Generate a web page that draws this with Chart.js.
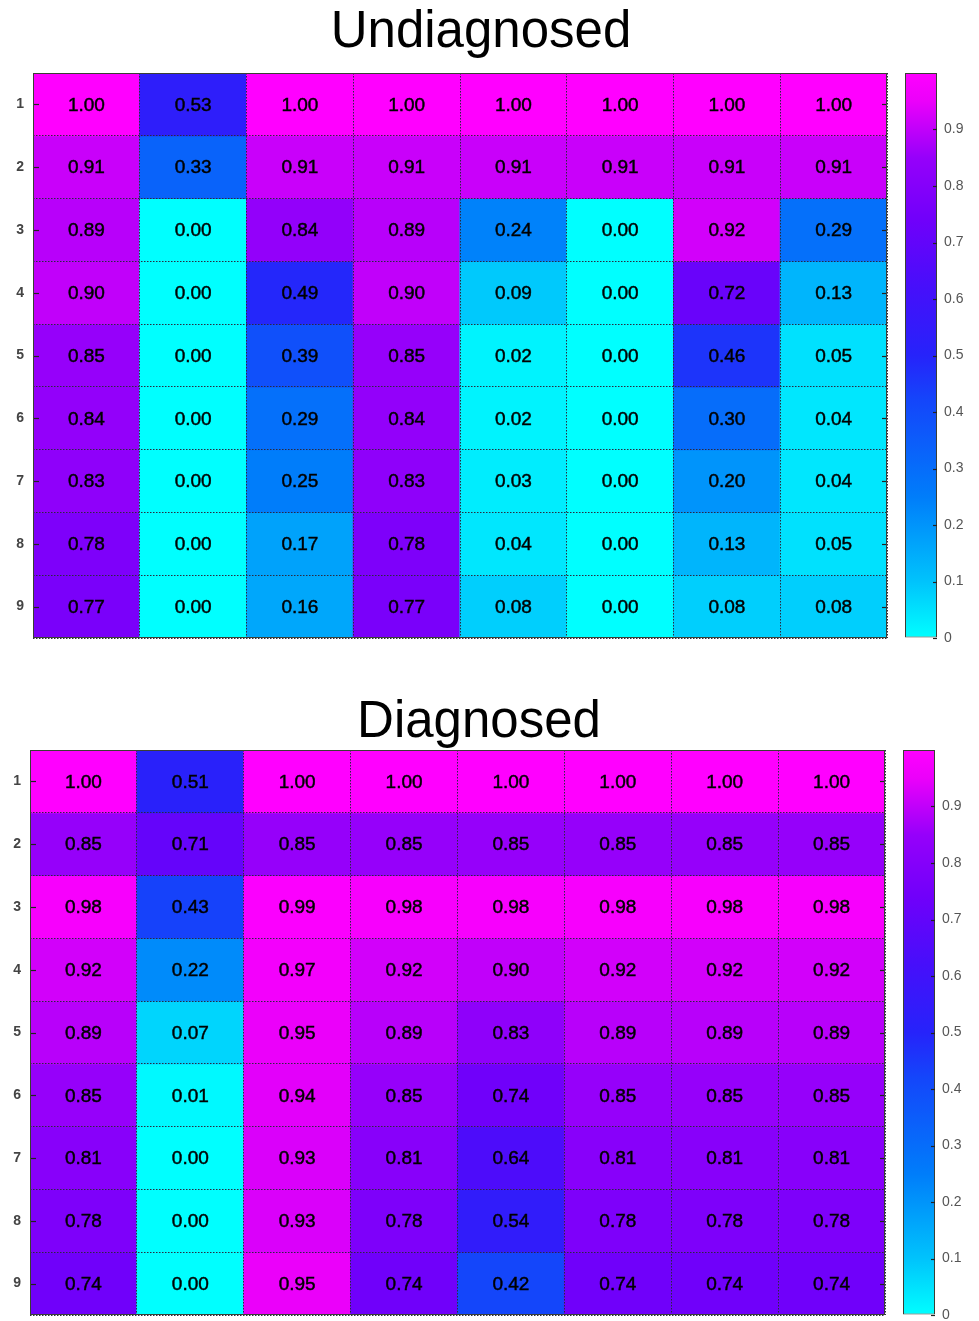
<!DOCTYPE html>
<html><head><meta charset="utf-8">
<script src="https://cdn.jsdelivr.net/npm/chart.js@4.4.1/dist/chart.umd.min.js"></script>
<style>
html,body{margin:0;padding:0;background:#fff;overflow:hidden;width:979px;height:1321px;position:relative;}
.title{position:absolute;left:0;text-align:center;font-family:"Liberation Sans",Arial,sans-serif;font-size:51px;line-height:51px;color:#000;}
canvas{position:absolute;}
</style></head><body>
<div class="title" style="top:4px;width:962px">Undiagnosed</div>
<div class="title" style="top:694px;width:958px">Diagnosed</div>
<canvas id="h1" width="895" height="585" style="left:0;top:63px;width:895px;height:585px"></canvas>
<canvas id="c1" width="84" height="585" style="left:895px;top:63px;width:84px;height:585px"></canvas>
<canvas id="h2" width="895" height="581" style="left:0;top:740px;width:895px;height:581px"></canvas>
<canvas id="c2" width="86" height="581" style="left:893px;top:740px;width:86px;height:581px"></canvas>
<script>
// ---- data ----
const columns = ['C1','C2','C3','C4','C5','C6','C7','C8'];
const rowLabels = ['1','2','3','4','5','6','7','8','9'];
const colorbarTicks = ['0','0.1','0.2','0.3','0.4','0.5','0.6','0.7','0.8','0.9'];

const undiagnosed = [
  [1.00,0.53,1.00,1.00,1.00,1.00,1.00,1.00],
  [0.91,0.33,0.91,0.91,0.91,0.91,0.91,0.91],
  [0.89,0.00,0.84,0.89,0.24,0.00,0.92,0.29],
  [0.90,0.00,0.49,0.90,0.09,0.00,0.72,0.13],
  [0.85,0.00,0.39,0.85,0.02,0.00,0.46,0.05],
  [0.84,0.00,0.29,0.84,0.02,0.00,0.30,0.04],
  [0.83,0.00,0.25,0.83,0.03,0.00,0.20,0.04],
  [0.78,0.00,0.17,0.78,0.04,0.00,0.13,0.05],
  [0.77,0.00,0.16,0.77,0.08,0.00,0.08,0.08]
];
const diagnosed = [
  [1.00,0.51,1.00,1.00,1.00,1.00,1.00,1.00],
  [0.85,0.71,0.85,0.85,0.85,0.85,0.85,0.85],
  [0.98,0.43,0.99,0.98,0.98,0.98,0.98,0.98],
  [0.92,0.22,0.97,0.92,0.90,0.92,0.92,0.92],
  [0.89,0.07,0.95,0.89,0.83,0.89,0.89,0.89],
  [0.85,0.01,0.94,0.85,0.74,0.85,0.85,0.85],
  [0.81,0.00,0.93,0.81,0.64,0.81,0.81,0.81],
  [0.78,0.00,0.93,0.78,0.54,0.78,0.78,0.78],
  [0.74,0.00,0.95,0.74,0.42,0.74,0.74,0.74]
];

// ---- colormap (style) ----
const cmapStops  = [0, 0.1, 0.25, 0.42, 0.5, 0.62, 0.74, 0.85, 0.95, 1];
const cmapColors = [[0,255,255],[0,195,252],[0,125,250],[20,70,250],[38,35,250],[70,15,250],[112,0,250],[150,0,250],[235,0,250],[255,0,255]];
function rgb(c){ return 'rgb('+c.map(Math.round).join(',')+')'; }
function cmap(v){
  for (let i=1;i<cmapStops.length;i++){
    if (v <= cmapStops[i]){
      const t = (v - cmapStops[i-1])/(cmapStops[i]-cmapStops[i-1]);
      const a = cmapColors[i-1], b = cmapColors[i];
      return rgb(a.map((x,k)=>x+(b[k]-x)*t));
    }
  }
  return rgb(cmapColors[cmapColors.length-1]);
}

const FONT = '"Liberation Sans", Arial, sans-serif';

const cellPlugin = {
  id:'cells',
  afterDraw(chart){
    const ctx = chart.ctx, a = chart.chartArea;
    ctx.save();
    ctx.font = '19px ' + FONT;
    ctx.fillStyle = '#000';
    ctx.strokeStyle = '#000';
    ctx.lineWidth = 0.45;
    ctx.textAlign = 'center';
    ctx.textBaseline = 'middle';
    chart.data.datasets.forEach((ds,di)=>{
      chart.getDatasetMeta(di).data.forEach((el,j)=>{
        const p = el.getCenterPoint();
        const s = ds.values[j].toFixed(2);
        ctx.fillText(s, p.x, p.y+1);
        ctx.strokeText(s, p.x, p.y+1);
      });
    });
    const ys = chart.scales.y;
    ctx.strokeStyle = '#222'; ctx.lineWidth = 1.2;
    rowLabels.forEach((l,i)=>{
      const y = Math.round(ys.getPixelForValue(i+0.5))+0.5;
      ctx.beginPath(); ctx.moveTo(a.right-5,y); ctx.lineTo(a.right,y); ctx.stroke();
      ctx.beginPath(); ctx.moveTo(a.left,y); ctx.lineTo(a.left+6,y); ctx.stroke();
    });
    ctx.strokeStyle = '#3a3f35'; ctx.lineWidth = 1;
    ctx.strokeRect(a.left+0.5, a.top+0.5, a.right-a.left-1, a.bottom-a.top-1);
    ctx.restore();
  }
};

const barTicksPlugin = {
  id:'cbticks',
  afterDraw(chart){
    const ctx = chart.ctx, a = chart.chartArea, ys = chart.scales.y;
    ctx.save();
    ctx.strokeStyle = '#222'; ctx.lineWidth = 1.2;
    colorbarTicks.forEach((l,i)=>{
      const y = Math.round(ys.getPixelForValue(ys.ticks[i].value))+0.5;
      ctx.beginPath(); ctx.moveTo(a.right-4,y); ctx.lineTo(a.right,y); ctx.stroke();
    });
    ctx.restore();
  }
};

function noPad(s){ s.paddingTop = 0; s.paddingBottom = 0; s.paddingLeft = 0; s.paddingRight = 0; }

function makeHeatmap(id, values, yAxisWidth, pad){
  const datasets = values.map((row,r)=>({
    label: rowLabels[r],
    data: row.map(()=>[r, r+1]),
    values: row,
    backgroundColor: row.map(v=>cmap(v)),
    borderWidth: 0,
    barPercentage: 1,
    categoryPercentage: 1,
    grouped: false,
    inflateAmount: 0.5
  }));
  new Chart(document.getElementById(id), {
    type:'bar',
    data:{ labels: columns, datasets },
    options:{
      responsive:false, animation:false, events:[],
      layout:{ padding: pad },
      plugins:{ legend:{display:false}, tooltip:{enabled:false} },
      scales:{
        x:{ type:'category', offset:true,
            grid:{ offset:true, color:'#2a2a40', lineWidth:1, drawTicks:false, z:1 },
            border:{ display:false, dash:[1.5,1.5] },
            ticks:{ display:false },
            afterFit(s){ s.height = 0; noPad(s); } },
        y:{ type:'linear', min:0, max:9, reverse:true, position:'left',
            afterBuildTicks(s){ s.ticks = rowLabels.map((l,i)=>({value:i+0.5})); },
            ticks:{ callback:(v,i)=>rowLabels[i], color:'#444', autoSkip:false, padding:9,
                    font:{ family:FONT, size:14, weight:'bold' } },
            grid:{ drawOnChartArea:false, drawTicks:false },
            border:{ display:false },
            afterFit(s){ s.width = yAxisWidth; noPad(s); } },
        yg:{ type:'linear', min:0, max:9, position:'right',
             ticks:{ display:false, stepSize:1 },
             grid:{ color:'#2a2a40', drawTicks:false, z:1 },
             border:{ display:false, dash:[1.5,1.5] },
             afterFit(s){ s.width = 0; noPad(s); } }
      }
    },
    plugins:[cellPlugin]
  });
}

function makeColorbar(id, yAxisWidth, pad){
  new Chart(document.getElementById(id), {
    type:'bar',
    data:{ labels:['scale'], datasets:[{
      data:[[0,1]],
      backgroundColor:(c)=>{
        const a = c.chart.chartArea;
        if (!a) return cmap(0.5);
        const g = c.chart.ctx.createLinearGradient(0, a.bottom, 0, a.top);
        cmapStops.forEach((s,i)=>g.addColorStop(s, rgb(cmapColors[i])));
        return g;
      },
      borderColor:'#3a3f35', borderWidth:1, borderSkipped:false,
      barPercentage:1, categoryPercentage:1, inflateAmount:0
    }]},
    options:{
      responsive:false, animation:false, events:[],
      layout:{ padding: pad },
      plugins:{ legend:{display:false}, tooltip:{enabled:false} },
      scales:{
        x:{ display:false },
        y:{ position:'right', min:0, max:1,
            ticks:{ stepSize:0.1, callback:(v,i)=>colorbarTicks[i], color:'#555', padding:7,
                    font:{ family:FONT, size:14 } },
            grid:{ drawOnChartArea:false, drawTicks:false },
            border:{ display:false },
            afterFit(s){ s.width = yAxisWidth; noPad(s); } }
      }
    },
    plugins:[barTicksPlugin]
  });
}

makeHeatmap('h1', undiagnosed, 33, {left:0, top:10, right:8, bottom:10});
makeColorbar('c1', 42, {left:10, top:10, right:0, bottom:10});
makeHeatmap('h2', diagnosed, 30, {left:0, top:10, right:10, bottom:6});
makeColorbar('c2', 44, {left:10, top:10, right:0, bottom:6});
</script>
</body></html>
